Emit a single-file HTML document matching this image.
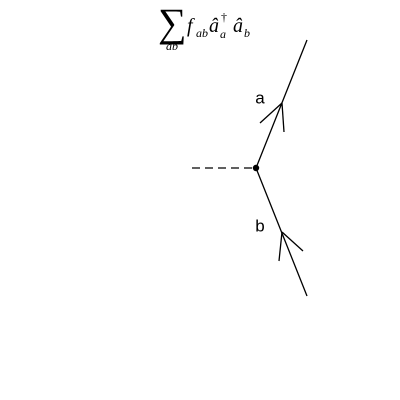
<!DOCTYPE html>
<html><head><meta charset="utf-8"><style>
html,body{margin:0;padding:0;background:#fff;width:400px;height:400px;overflow:hidden}
</style></head><body>
<svg id="chart" width="400" height="400" viewBox="0 0 400 400" xmlns="http://www.w3.org/2000/svg">
<g font-family="Liberation Serif, serif" font-style="italic" fill="#000">
  <text x="158" y="36" font-size="40" font-style="normal">∑</text>
  <text x="166" y="50" font-size="12">ab</text>
  <text x="187" y="32" font-size="20">f</text>
  <text x="196" y="37" font-size="12">ab</text>
  <text x="209" y="32" font-size="20">â</text>
  <text x="221" y="21" font-size="12" font-style="normal">†</text>
  <text x="220" y="38" font-size="12">a</text>
  <text x="233" y="32" font-size="20">â</text>
  <text x="244" y="37" font-size="12">b</text>
</g>
</svg>
<script>
const vertex = [256, 168];
const lineEnds = [[307, 40], [307, 296]];
const arrowTips = [[282, 103], [282, 232]];
const arrowArms = [[[260, 123], [284, 132]], [[303, 251], [279, 261]]];
const labels = ["a", "b"];
const labelPos = [[260, 99], [260, 227]];
const dashStart = [192, 168];
const NS = "http://www.w3.org/2000/svg";
const svg = document.getElementById("chart");
function line(x1,y1,x2,y2,name,dash){
  const l=document.createElementNS(NS,"line");
  l.setAttribute("x1",x1);l.setAttribute("y1",y1);l.setAttribute("x2",x2);l.setAttribute("y2",y2);
  l.setAttribute("stroke","#000");l.setAttribute("stroke-width","1.3");
  if(dash)l.setAttribute("stroke-dasharray","8,5");
  
  
  svg.appendChild(l);
}
line(dashStart[0],dashStart[1],vertex[0],vertex[1],"dashed-line",true);
lineEnds.forEach((e,i)=>{
  line(vertex[0],vertex[1],e[0],e[1],"fermion-line-"+labels[i]);
  arrowArms[i].forEach((a,j)=>line(arrowTips[i][0],arrowTips[i][1],a[0],a[1],"arrow-"+labels[i]+"-arm"+j));
  const t=document.createElementNS(NS,"text");
  t.setAttribute("x",labelPos[i][0]);t.setAttribute("y",labelPos[i][1]);
  t.setAttribute("font-family","Liberation Sans, sans-serif");t.setAttribute("font-size","17");
  t.setAttribute("text-anchor","middle");t.setAttribute("dominant-baseline","middle");
  t.textContent=labels[i];
  
  
  svg.appendChild(t);
});
const c=document.createElementNS(NS,"circle");
c.setAttribute("cx",vertex[0]);c.setAttribute("cy",vertex[1]);c.setAttribute("r","3.2");c.setAttribute("fill","#000");


svg.appendChild(c);
</script>
</body></html>
